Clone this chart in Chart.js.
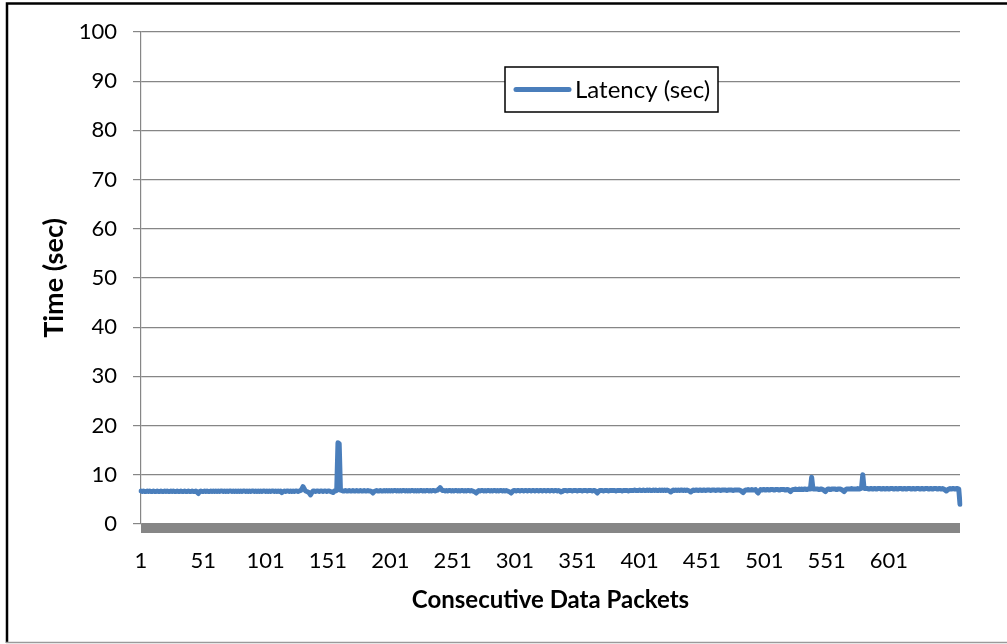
<!DOCTYPE html>
<html>
<head>
<meta charset="utf-8">
<script src="https://cdn.jsdelivr.net/npm/chart.js@4.4.1/dist/chart.umd.min.js"></script>
<style>
html,body{margin:0;padding:0;background:#fff;}
#wrap{position:relative;width:1007px;height:644px;}
</style>
</head>
<body>
<div id="wrap"><canvas id="c" width="1007" height="644"></canvas></div>
<script>
const seriesName = 'Latency (sec)';
const xTitle = 'Consecutive Data Packets';
const yTitle = 'Time (sec)';
const xTickLabels = ['1','51','101','151','201','251','301','351','401','451','501','551','601'];
const yTickValues = [0,10,20,30,40,50,60,70,80,90,100];
const latency = [
6.7,6.6,6.7,6.6,6.6,6.7,6.6,6.7,6.6,6.6,6.7,6.6,6.6,6.7,6.6,6.6,6.7,6.6,6.6,6.7,
6.6,6.7,6.6,6.6,6.7,6.6,6.7,6.6,6.6,6.7,6.6,6.6,6.7,6.6,6.6,6.7,6.6,6.6,6.7,6.6,
6.6,6.7,6.6,6.6,6.7,6.5,6.2,6.6,6.7,6.6,6.6,6.7,6.6,6.7,6.6,6.6,6.7,6.6,6.7,6.6,
6.7,6.6,6.7,6.6,6.7,6.7,6.6,6.7,6.6,6.7,6.6,6.7,6.7,6.6,6.7,6.6,6.7,6.6,6.7,6.6,
6.7,6.6,6.7,6.7,6.6,6.7,6.6,6.7,6.6,6.7,6.7,6.6,6.7,6.6,6.7,6.6,6.7,6.6,6.7,6.7,
6.6,6.7,6.6,6.7,6.6,6.7,6.7,6.6,6.7,6.6,6.7,6.6,6.7,6.4,6.6,6.7,6.6,6.7,6.7,6.6,
6.7,6.6,6.7,6.6,6.7,6.7,6.6,6.7,6.8,7.1,7.6,7.1,6.7,6.6,6.5,6.3,5.9,6.4,6.7,6.7,
6.6,6.7,6.7,6.6,6.7,6.7,6.6,6.7,6.7,6.6,6.7,6.7,6.6,6.5,6.4,6.7,6.7,6.8,16.5,16.3,
6.9,6.8,6.7,6.7,6.8,6.7,6.7,6.8,6.7,6.7,6.8,6.7,6.7,6.8,6.7,6.7,6.8,6.7,6.7,6.8,
6.7,6.7,6.8,6.7,6.7,6.6,6.3,6.6,6.7,6.8,6.7,6.7,6.8,6.7,6.7,6.8,6.7,6.8,6.7,6.8,
6.7,6.8,6.7,6.8,6.8,6.7,6.8,6.7,6.8,6.7,6.8,6.8,6.7,6.8,6.7,6.8,6.7,6.8,6.8,6.7,
6.8,6.7,6.8,6.7,6.8,6.8,6.7,6.8,6.7,6.8,6.8,6.7,6.8,6.7,6.8,6.8,6.7,6.8,6.9,7.1,
7.4,7.0,6.8,6.8,6.7,6.8,6.7,6.8,6.8,6.7,6.8,6.7,6.8,6.8,6.7,6.8,6.7,6.8,6.8,6.7,
6.8,6.7,6.8,6.8,6.7,6.8,6.7,6.6,6.5,6.3,6.6,6.8,6.7,6.8,6.8,6.7,6.8,6.7,6.8,6.8,
6.7,6.8,6.7,6.8,6.8,6.7,6.8,6.7,6.8,6.8,6.7,6.8,6.7,6.8,6.7,6.6,6.5,6.3,6.6,6.8,
6.8,6.7,6.8,6.8,6.7,6.8,6.8,6.7,6.8,6.8,6.7,6.8,6.8,6.7,6.8,6.8,6.7,6.8,6.8,6.7,
6.8,6.8,6.7,6.8,6.8,6.7,6.8,6.8,6.7,6.8,6.8,6.7,6.8,6.8,6.7,6.8,6.7,6.5,6.6,6.8,
6.8,6.8,6.7,6.8,6.8,6.8,6.7,6.8,6.8,6.8,6.7,6.8,6.8,6.8,6.7,6.8,6.8,6.8,6.7,6.8,
6.8,6.8,6.7,6.8,6.8,6.6,6.3,6.6,6.8,6.8,6.8,6.7,6.8,6.8,6.8,6.7,6.8,6.8,6.8,6.8,
6.8,6.7,6.8,6.8,6.8,6.8,6.7,6.8,6.8,6.8,6.8,6.7,6.8,6.8,6.8,6.8,6.9,6.8,6.8,6.8,
6.9,6.8,6.8,6.9,6.8,6.8,6.9,6.8,6.9,6.8,6.8,6.9,6.8,6.9,6.8,6.8,6.9,6.8,6.9,6.8,
6.9,6.8,6.9,6.8,6.7,6.5,6.7,6.9,6.8,6.9,6.8,6.9,6.8,6.9,6.9,6.8,6.9,6.8,6.9,6.8,
6.7,6.5,6.7,6.9,6.8,6.9,6.9,6.8,6.9,6.9,6.8,6.9,6.9,6.8,6.9,6.9,6.9,6.8,6.9,6.9,
6.9,6.8,6.9,6.9,6.9,6.8,6.9,6.9,6.9,6.9,6.8,6.9,6.9,6.9,6.9,6.8,6.9,6.9,6.9,6.9,
6.9,6.8,6.6,6.4,6.7,6.9,6.9,7.0,6.9,6.9,7.0,6.9,6.9,7.0,6.6,6.3,6.7,7.0,6.9,7.0,
7.0,6.9,7.0,7.0,6.9,7.0,7.0,7.0,6.9,7.0,7.0,7.0,6.9,7.0,7.0,7.0,7.0,6.9,7.0,7.0,
6.8,6.6,6.9,7.0,7.0,7.1,7.0,7.0,7.1,7.0,7.1,7.0,7.1,7.1,7.0,7.1,7.1,7.1,9.5,7.2,
7.1,7.1,7.1,7.1,7.0,7.1,7.1,7.0,6.8,6.6,6.9,7.1,7.1,7.0,7.1,7.1,7.1,7.1,7.0,7.1,
7.1,7.1,7.0,6.8,6.6,6.9,7.1,7.1,7.1,7.1,7.2,7.1,7.1,7.1,7.1,7.2,7.1,7.2,7.3,10.0,
7.3,7.2,7.2,7.2,7.1,7.2,7.2,7.1,7.2,7.2,7.1,7.2,7.2,7.2,7.1,7.2,7.2,7.1,7.2,7.2,
7.1,7.2,7.2,7.2,7.1,7.2,7.2,7.1,7.2,7.2,7.2,7.1,7.2,7.2,7.1,7.2,7.2,7.2,7.1,7.2,
7.2,7.1,7.2,7.2,7.2,7.1,7.2,7.2,7.1,7.2,7.2,7.2,7.1,7.2,7.2,7.1,7.2,7.2,7.2,7.1,
7.2,7.2,7.1,7.2,7.1,6.9,6.7,6.9,7.1,7.2,7.1,7.2,7.2,7.1,7.2,7.2,7.1,4.0
];
const packets = latency.map((_, i) => String(i + 1));

const FONT = 'Lato, "Open Sans", sans-serif';
const GRID = '#868686';
const LINE = '#4a7ebb';

const decor = {
  id: 'decor',
  afterDraw(chart) {
    const ctx = chart.ctx;
    const a = chart.chartArea;
    const y0 = chart.scales.y.getPixelForValue(0);
    ctx.save();
    // floor band under the zero line
    ctx.fillStyle = GRID;
    ctx.fillRect(a.left, y0, a.right - a.left, 9);
    // legend box
    const lx = 505, ly = 67, lw = 213, lh = 45;
    ctx.fillStyle = '#fff';
    ctx.fillRect(lx, ly, lw, lh);
    ctx.strokeStyle = '#000';
    ctx.lineWidth = 1.5;
    ctx.strokeRect(lx, ly, lw, lh);
    ctx.strokeStyle = LINE;
    ctx.lineWidth = 5;
    ctx.lineCap = 'round';
    ctx.beginPath();
    ctx.moveTo(516, 89.5);
    ctx.lineTo(569, 89.5);
    ctx.stroke();
    ctx.fillStyle = '#000';
    ctx.font = '24px ' + FONT;
    ctx.textBaseline = 'middle';
    ctx.textAlign = 'left';
    ctx.fillText(chart.data.datasets[0].label, 575, 90);
    // outer frame
    ctx.lineCap = 'butt';
    ctx.strokeStyle = '#000';
    ctx.lineWidth = 2.5;
    ctx.beginPath();
    ctx.moveTo(7, 643);
    ctx.lineTo(7, 3.5);
    ctx.lineTo(1010, 3.5);
    ctx.stroke();
    ctx.strokeStyle = '#9a9a9a';
    ctx.lineWidth = 1.5;
    ctx.beginPath();
    ctx.moveTo(6, 642.5);
    ctx.lineTo(1010, 642.5);
    ctx.stroke();
    ctx.restore();
  }
};

new Chart(document.getElementById('c'), {
  type: 'line',
  data: {
    labels: packets,
    datasets: [{
      label: seriesName,
      data: latency,
      borderColor: LINE,
      backgroundColor: LINE,
      borderWidth: 5,
      pointRadius: 0,
      tension: 0,
      borderJoinStyle: 'round',
      borderCapStyle: 'round',
      fill: false
    }]
  },
  options: {
    responsive: false,
    animation: false,
    devicePixelRatio: 1,
    layout: { padding: { left: 0, top: 32, right: 47, bottom: 0 } },
    plugins: { legend: { display: false }, tooltip: { enabled: false } },
    scales: {
      x: {
        type: 'category',
        offset: false,
        grid: { display: false, drawTicks: false },
        border: { display: false },
        ticks: {
          autoSkip: false,
          maxRotation: 0,
          minRotation: 0,
          padding: 24,
          color: '#000',
          font: { family: FONT, size: 22 },
          callback: function(v, i) {
            const l = this.getLabelForValue(v);
            return xTickLabels.includes(l) ? l : '';
          }
        },
        title: {
          display: true,
          text: xTitle,
          color: '#000',
          font: { family: FONT, size: 24, weight: 'bold' },
          padding: { top: 0, bottom: 29.6 }
        },
        afterFit(s) { s.height = 120; }
      },
      y: {
        min: 0,
        max: 100,
        afterBuildTicks(s) { s.ticks = yTickValues.map(v => ({ value: v })); },
        grid: { color: GRID, lineWidth: 1.2, tickLength: 8, drawTicks: true },
        border: { display: true, color: GRID, width: 1.2 },
        ticks: {
          padding: 16,
          color: '#000',
          font: { family: FONT, size: 22 }
        },
        title: {
          display: true,
          text: yTitle,
          color: '#000',
          font: { family: FONT, size: 27, weight: 'bold' },
          padding: { top: 38, bottom: 0 }
        },
        afterFit(s) { s.width = 141; }
      }
    }
  },
  plugins: [decor]
});
</script>
</body>
</html>
